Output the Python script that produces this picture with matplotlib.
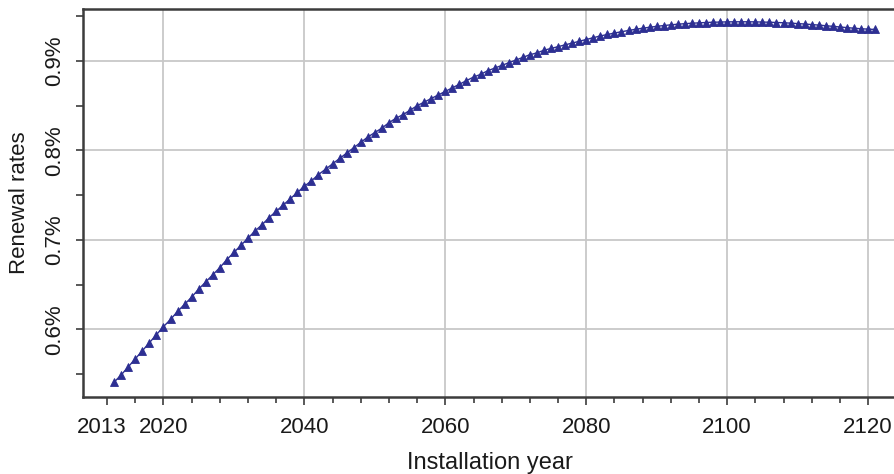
import numpy as np
import matplotlib
matplotlib.use("Agg")
import matplotlib.pyplot as plt
from matplotlib.ticker import FixedLocator, FuncFormatter
import matplotlib.transforms as mtransforms

plt.rcParams['font.family'] = ['Liberation Sans', 'DejaVu Sans']

# renewal rate (%) by installation year
years = list(range(2013, 2122))
rates = [
    0.541, 0.549, 0.558, 0.567, 0.576, 0.585, 0.594, 0.603, 0.611, 0.620,   # 2013-2022
    0.628, 0.636, 0.645, 0.653, 0.661, 0.669, 0.678, 0.686, 0.694, 0.702,   # 2023-2032
    0.710, 0.717, 0.725, 0.732, 0.739, 0.746, 0.753, 0.760, 0.766, 0.773,   # 2033-2042
    0.779, 0.785, 0.791, 0.797, 0.803, 0.809, 0.815, 0.820, 0.825, 0.831,   # 2043-2052
    0.836, 0.840, 0.845, 0.850, 0.854, 0.858, 0.862, 0.866, 0.870, 0.874,   # 2053-2062
    0.878, 0.882, 0.885, 0.889, 0.892, 0.895, 0.898, 0.901, 0.904, 0.907,   # 2063-2072
    0.909, 0.912, 0.914, 0.916, 0.918, 0.920, 0.922, 0.924, 0.926, 0.928,   # 2073-2082
    0.9296, 0.9312, 0.9327, 0.9341, 0.9354, 0.9366, 0.9377, 0.9387, 0.9396, 0.9404,  # 2083-2092
    0.9411, 0.9417, 0.9422, 0.9426, 0.9430, 0.9433, 0.9435, 0.9437, 0.9438, 0.9438,  # 2093-2102
    0.9438, 0.9437, 0.9435, 0.9433, 0.9430, 0.9427, 0.9423, 0.9418, 0.9413, 0.9407,  # 2103-2112
    0.9401, 0.9394, 0.9387, 0.9380, 0.9373, 0.9366, 0.9360, 0.9356, 0.9352,          # 2113-2121
]

xticks = [2012, 2020, 2040, 2060, 2080, 2100, 2120]
xtick_labels = ['2013', '2020', '2040', '2060', '2080', '2100', '2120']
yticks = [0.6, 0.7, 0.8, 0.9]

fig = plt.figure(figsize=(8.95, 4.74), dpi=100)
ax = fig.add_axes([83 / 895, 1 - 397.3 / 474, 1.003 - 83 / 895, (397.3 - 9) / 474])

ax.plot(years, rates, color='#2d2f92', marker='^', markersize=6,
        linewidth=1.0, markeredgewidth=0.6)

ax.set_xlim(2008.58, 2124.2)
ax.set_ylim(0.524, 0.9581)

ax.set_xticks(xticks)
ax.set_xticklabels(xtick_labels)
ax.xaxis.set_minor_locator(FixedLocator([y for y in range(2016, 2124, 4) if y not in xticks]))
ax.set_yticks(yticks)
ax.yaxis.set_major_formatter(FuncFormatter(lambda v, p: f'{v:.1f}%'))
ax.yaxis.set_minor_locator(FixedLocator([0.55, 0.65, 0.75, 0.85, 0.95]))

ax.grid(True, which='major', color='#c8c8c8', linewidth=1.3)
ax.get_xgridlines()[0].set_visible(False)
ax.set_axisbelow(True)

for s in ax.spines.values():
    s.set_color('#3c3c3c')
    s.set_linewidth(1.8)

ax.tick_params(axis='x', which='major', length=6, width=1.2, color='#3c3c3c',
               labelsize=16, pad=8, labelcolor='#1a1a1a')
ax.tick_params(axis='x', which='minor', length=4.5, width=1.2, color='#3c3c3c')
ax.tick_params(axis='y', which='both', length=5, width=1.2, color='#3c3c3c',
               labelsize=16, pad=8, labelcolor='#1a1a1a')
for lbl in ax.get_yticklabels():
    lbl.set_rotation(90)
    lbl.set_va('center')

# nudge the first year label a little to the left
first = ax.get_xticklabels()[0]
first.set_transform(first.get_transform() +
                    mtransforms.ScaledTranslation(-5 / 100, 0, fig.dpi_scale_trans))

ax.set_xlabel('Installation year', fontsize=17, color='#1a1a1a', labelpad=10)
ax.set_ylabel('Renewal rates', fontsize=16, color='#1a1a1a', labelpad=10)

fig.savefig('out.png', dpi=100)
